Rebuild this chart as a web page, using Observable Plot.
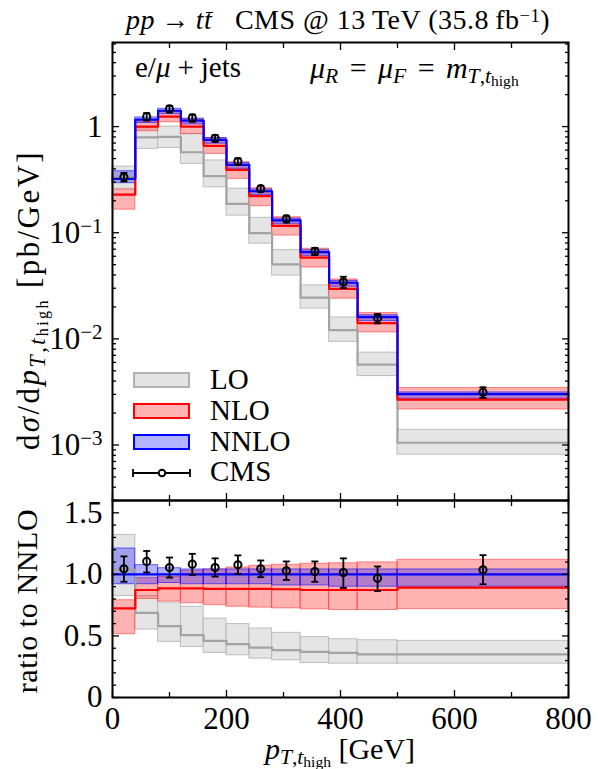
<!DOCTYPE html>
<html><head><meta charset="utf-8">
<script src="https://cdn.jsdelivr.net/npm/d3@7"></script>
<script src="https://cdn.jsdelivr.net/npm/@observablehq/plot@0.6"></script>
<style>
body{margin:0;background:#fff;}
#wrap{position:relative;width:598px;height:769px;font-family:"Liberation Serif",serif;color:#000;overflow:hidden}
#wrap svg{position:absolute;left:0}
.t{position:absolute;white-space:nowrap;line-height:1}
.t sub{font-size:0.72em;vertical-align:-0.25em;line-height:0}
.t sub sub{font-size:0.72em;vertical-align:-0.2em}
.op{margin:0 0.24em}
.bar{position:relative;display:inline-block}
.bar::after{content:"";position:absolute;left:0.08em;right:-0.02em;top:0.2em;border-top:1.6px solid #000}
.sw{position:absolute;box-sizing:border-box;width:57px;height:16px;border-width:2px;border-style:solid}
</style></head><body><div id="wrap"></div>
<script>
// bin edges [GeV]
const edges = [0, 40, 80, 120, 160, 200, 240, 280, 330, 380, 430, 500, 800];
// top panel: dσ/dpT [pb/GeV]
const nnlo   = [0.322, 1.164, 1.41, 1.14, 0.75, 0.436, 0.246, 0.1305, 0.0657, 0.0338, 0.01606, 0.00301];
const nnloLo = [0.293, 1.08, 1.31, 1.05, 0.69, 0.40, 0.226, 0.120, 0.060, 0.031, 0.0147, 0.00272];
const nnloHi = [0.38, 1.22, 1.47, 1.19, 0.78, 0.455, 0.256, 0.136, 0.0685, 0.0352, 0.0167, 0.00313];
const nlo    = [0.229, 1.0, 1.24, 1.0, 0.659, 0.391, 0.221, 0.116, 0.0584, 0.0296, 0.0141, 0.00268];
const nloLo  = [0.165, 0.904, 1.098, 0.853, 0.553, 0.322, 0.178, 0.094, 0.047, 0.0239, 0.0115, 0.00216];
const nloHi  = [0.255, 1.12, 1.38, 1.17, 0.78, 0.46, 0.262, 0.140, 0.0707, 0.0363, 0.0175, 0.00344];
const lo     = [0.334, 0.79, 0.80, 0.573, 0.341, 0.187, 0.099, 0.0504, 0.0245, 0.0121, 0.00571, 0.00105];
const loLo   = [0.26, 0.617, 0.63, 0.446, 0.268, 0.145, 0.079, 0.0395, 0.0193, 0.00937, 0.00446, 0.000811];
const loHi   = [0.42, 0.97, 1.0, 0.846, 0.48, 0.26, 0.138, 0.0685, 0.0319, 0.0159, 0.00741, 0.00139];
// CMS data
const cmsX   = [20, 60, 100, 140, 180, 220, 260, 305, 355, 405, 465, 650];
const cms    = [0.333, 1.24, 1.466, 1.207, 0.776, 0.469, 0.26, 0.135, 0.0668, 0.0343, 0.0157, 0.00314];
const cmsLo  = [0.304, 1.14, 1.36, 1.11, 0.72, 0.437, 0.243, 0.125, 0.0618, 0.0301, 0.0140, 0.00278];
const cmsHi  = [0.366, 1.34, 1.57, 1.30, 0.83, 0.503, 0.277, 0.145, 0.0720, 0.0385, 0.0172, 0.00350];
// ratio panel (to NNLO)
const rNnloLo = [0.92, 0.92, 0.93, 0.92, 0.92, 0.92, 0.92, 0.91, 0.91, 0.90, 0.90, 0.90];
const rNnloHi = [1.21, 1.075, 1.05, 1.04, 1.04, 1.04, 1.04, 1.04, 1.04, 1.04, 1.04, 1.04];
const rNnlo   = [1, 1, 1, 1, 1, 1, 1, 1, 1, 1, 1, 1];
const rNlo    = [0.724, 0.873, 0.887, 0.887, 0.882, 0.882, 0.882, 0.879, 0.873, 0.873, 0.873, 0.892];
const rNloLo  = [0.514, 0.80, 0.78, 0.765, 0.75, 0.737, 0.73, 0.724, 0.716, 0.71, 0.71, 0.718];
const rNloHi  = [0.79, 0.97, 0.98, 1.03, 1.04, 1.056, 1.07, 1.078, 1.086, 1.09, 1.097, 1.118];
const rLo     = [1.037, 0.688, 0.58, 0.506, 0.46, 0.433, 0.405, 0.384, 0.37, 0.362, 0.351, 0.351];
const rLoLo   = [0.824, 0.552, 0.452, 0.41, 0.362, 0.343, 0.316, 0.302, 0.28, 0.275, 0.275, 0.275];
const rLoHi   = [1.32, 0.824, 0.77, 0.737, 0.64, 0.596, 0.56, 0.525, 0.49, 0.473, 0.465, 0.46];
const rCms    = [1.045, 1.105, 1.056, 1.083, 1.056, 1.078, 1.045, 1.029, 1.023, 1.015, 0.969, 1.037];
const rCmsLo  = [0.94, 1.015, 0.974, 0.996, 0.982, 1.004, 0.977, 0.955, 0.94, 0.89, 0.865, 0.92];
const rCmsHi  = [1.146, 1.19, 1.137, 1.167, 1.13, 1.154, 1.113, 1.105, 1.105, 1.13, 1.064, 1.156];
// ticks
const xMajor = [0, 200, 400, 600, 800];
const xMinor = [100, 300, 500, 700];
const yLogMajor = [1e-3, 1e-2, 1e-1, 1];
const yRatioMajor = [0, 0.5, 1.0, 1.5];

const yLogMinor = [1e-4, 1e-3, 1e-2, 1e-1, 1].flatMap(d => [2,3,4,5,6,7,8,9].map(m => d * m)).filter(v => v >= 3e-4 && v <= 6.2);
const yRatioMinor = d3.range(1, 17).map(i => i / 10).filter(v => !yRatioMajor.some(m => Math.abs(m - v) < 1e-9));

const bins = (c, l, h) => c.map((v, i) => ({x1: edges[i], x2: edges[i+1], y: v, lo: l[i], hi: h[i]}));
const steps = (c) => c.flatMap((v, i) => [{x: edges[i], y: v}, {x: edges[i+1], y: v}]);
const pts = (y, l, h) => cmsX.map((x, i) => ({x, y: y[i], lo: l[i], hi: h[i]}));
const cap = {draw(ctx, size) { ctx.moveTo(-3.5, 0); ctx.lineTo(3.5, 0); }};

const GREY = {fill: "#d0d0d0", fillOpacity: 0.55, stroke: "#bdbdbd", strokeWidth: 1};
const RED = {fill: "#ff0000", fillOpacity: 0.3, stroke: "#ff3030", strokeOpacity: 0.55, strokeWidth: 1};
const BLUE = {fill: "#0000ff", fillOpacity: 0.3, stroke: "#0000ff", strokeOpacity: 0.55, strokeWidth: 1};

function histMarks(L, Ll, Lh, N, Nl, Nh, NN, NNl, NNh, C, Cl, Ch) {
  return [
    Plot.rectY(bins(L, Ll, Lh), {x1: "x1", x2: "x2", y1: "lo", y2: "hi", ...GREY}),
    Plot.rectY(bins(N, Nl, Nh), {x1: "x1", x2: "x2", y1: "lo", y2: "hi", ...RED}),
    Plot.rectY(bins(NN, NNl, NNh), {x1: "x1", x2: "x2", y1: "lo", y2: "hi", ...BLUE}),
    Plot.line(steps(L), {x: "x", y: "y", stroke: "#a3a3a3", strokeWidth: 2.2}),
    Plot.line(steps(N), {x: "x", y: "y", stroke: "#ff0000", strokeWidth: 2.2}),
    Plot.line(steps(NN), {x: "x", y: "y", stroke: "#0000ff", strokeWidth: 2.2}),
    Plot.ruleX(pts(C, Cl, Ch), {x: "x", y1: "lo", y2: "hi", stroke: "#000", strokeWidth: 1.8}),
    Plot.dot(pts(C, Cl, Ch), {x: "x", y: "lo", symbol: cap, stroke: "#000", strokeWidth: 1.8}),
    Plot.dot(pts(C, Cl, Ch), {x: "x", y: "hi", symbol: cap, stroke: "#000", strokeWidth: 1.8}),
    Plot.dot(pts(C, Cl, Ch), {x: "x", y: "y", r: 3.6, stroke: "#000", strokeWidth: 2, fill: "none"}),
    Plot.frame({stroke: "#000", strokeWidth: 2})
  ];
}
const FS = 31;
const common = {
  width: 598, marginLeft: 112, marginRight: 30,
  x: {domain: [0, 800]},
  style: {fontFamily: '"Liberation Serif", serif', fontSize: FS + "px", background: "transparent", overflow: "visible", color: "#000"}
};
const tk = {label: null, strokeWidth: 1.3, fill: "none"};

const topPlot = Plot.plot({
  ...common, height: 500, marginTop: 42, marginBottom: 0,
  y: {type: "log", domain: [3e-4, 6.2]},
  marks: [
    ...histMarks(lo, loLo, loHi, nlo, nloLo, nloHi, nnlo, nnloLo, nnloHi, cms, cmsLo, cmsHi),
    Plot.axisY(yLogMajor, {anchor: "left", tickSize: -7, tickPadding: 17, label: null, strokeWidth: 1.3, fontSize: FS,
      tickFormat: d => d === 1 ? "1" : "10^" + Math.round(Math.log10(d))}),
    Plot.axisY(yLogMinor, {anchor: "left", tickSize: -4, ...tk}),
    Plot.axisY(yLogMajor, {anchor: "right", tickSize: -7, ...tk}),
    Plot.axisY(yLogMinor, {anchor: "right", tickSize: -4, ...tk}),
    Plot.axisX(xMajor, {anchor: "bottom", tickSize: -7, ...tk}),
    Plot.axisX(xMinor, {anchor: "bottom", tickSize: -5, ...tk}),
    Plot.axisX(xMajor, {anchor: "top", tickSize: -7, ...tk}),
    Plot.axisX(xMinor, {anchor: "top", tickSize: -5, ...tk})
  ]
});
const botPlot = Plot.plot({
  ...common, height: 269, marginTop: 0, marginBottom: 72,
  y: {domain: [0, 1.6]},
  marks: [
    ...histMarks(rLo, rLoLo, rLoHi, rNlo, rNloLo, rNloHi, rNnlo, rNnloLo, rNnloHi, rCms, rCmsLo, rCmsHi),
    Plot.axisY(yRatioMajor, {anchor: "left", tickSize: -7, tickPadding: 17, label: null, strokeWidth: 1.3, fontSize: FS,
      tickFormat: d => d === 0 ? "0" : d.toFixed(1)}),
    Plot.axisY(yRatioMinor, {anchor: "left", tickSize: -4, ...tk}),
    Plot.axisY(yRatioMajor, {anchor: "right", tickSize: -7, ...tk}),
    Plot.axisY(yRatioMinor, {anchor: "right", tickSize: -4, ...tk}),
    Plot.axisX(xMajor, {anchor: "bottom", tickSize: -7, tickPadding: 16, label: null, strokeWidth: 1.3, fontSize: FS, tickFormat: d => String(d)}),
    Plot.axisX(xMinor, {anchor: "bottom", tickSize: -5, ...tk}),
    Plot.axisX(xMajor, {anchor: "top", tickSize: -7, ...tk}),
    Plot.axisX(xMinor, {anchor: "top", tickSize: -5, ...tk})
  ]
});

// superscript exponents on log tick labels
topPlot.querySelectorAll("text").forEach(t => {
  const s = t.textContent;
  if (s.startsWith("10^")) {
    const e = s.slice(3).replace("-", "\u2212");
    t.textContent = "";
    const a = document.createElementNS("http://www.w3.org/2000/svg", "tspan"); a.textContent = "10";
    const b = document.createElementNS("http://www.w3.org/2000/svg", "tspan");
    b.textContent = e; b.setAttribute("dy", "-0.45em"); b.setAttribute("font-size", "21");
    t.append(a, b);
  }
});

const wrap = document.getElementById("wrap");
topPlot.style.top = "0px";
botPlot.style.top = "500px";
wrap.append(topPlot, botPlot);

function addText(html, css) {
  const d = document.createElement("div");
  d.className = "t"; d.innerHTML = html; d.setAttribute("style", css);
  wrap.append(d);
}
addText('<i>pp</i><span style="margin:0 0.22em">&rarr;</span><i>t</i><i class="bar">t</i>&nbsp;&nbsp; CMS @ 13&thinsp;TeV (35.8&thinsp;fb<sup style="font-size:0.66em;line-height:0;vertical-align:0.4em">&minus;1</sup>)',
  "left:338px;top:6px;transform:translateX(-50%);font-size:28px;letter-spacing:0.5px");
addText('e/<i>&mu;</i><span class="op">+</span>jets', "left:135px;top:53px;font-size:29px");
addText('<i>&mu;<sub>R</sub></i><span class="op" style="margin:0 0.38em">=</span><i>&mu;<sub>F</sub></i><span class="op" style="margin:0 0.38em">=</span><i>m</i><sub><i>T</i>,<i>t</i><sub>high</sub></sub>', "left:310px;top:53px;font-size:30px");
addText('d<i>&sigma;</i>/d<i>p</i><sub><i>T</i>,<i>t</i><sub>high</sub></sub>&nbsp;[pb/GeV]',
  "left:28px;top:300px;font-size:31px;letter-spacing:2.4px;transform:translate(-50%,-50%) rotate(-90deg)");
addText('ratio to NNLO', "left:27px;top:601px;font-size:30px;letter-spacing:0.6px;transform:translate(-50%,-50%) rotate(-90deg)");
addText('<i>p</i><sub><i>T</i>,<i>t</i><sub>high</sub></sub> [GeV]', "left:340px;top:734px;transform:translateX(-50%);font-size:30px");

// legend
const lg = [["LO", "#e4e4e4", "#b0b0b0", 372], ["NLO", "#ffb3b3", "#ff0000", 403], ["NNLO", "#b3b3ff", "#0000ff", 434]];
lg.forEach(([name, bg, bd, y]) => {
  const s = document.createElement("div");
  s.className = "sw"; s.style.left = "133px"; s.style.top = y + "px"; s.style.background = bg; s.style.borderColor = bd;
  wrap.append(s);
  addText(name, `left:210px;top:${y - 7}px;font-size:29px`);
});
const ls = document.createElementNS("http://www.w3.org/2000/svg", "svg");
ls.setAttribute("width", 70); ls.setAttribute("height", 20);
ls.setAttribute("style", "position:absolute;left:128px;top:463px");
ls.innerHTML = '<g stroke="#000" stroke-width="1.8" fill="none"><line x1="5" y1="10" x2="62" y2="10"/><line x1="5" y1="6" x2="5" y2="14"/><line x1="62" y1="6" x2="62" y2="14"/><circle cx="34" cy="10" r="3.3" stroke-width="2" fill="#fff"/></g>';
wrap.append(ls);
addText("CMS", "left:210px;top:457px;font-size:29px");
</script></body></html>
